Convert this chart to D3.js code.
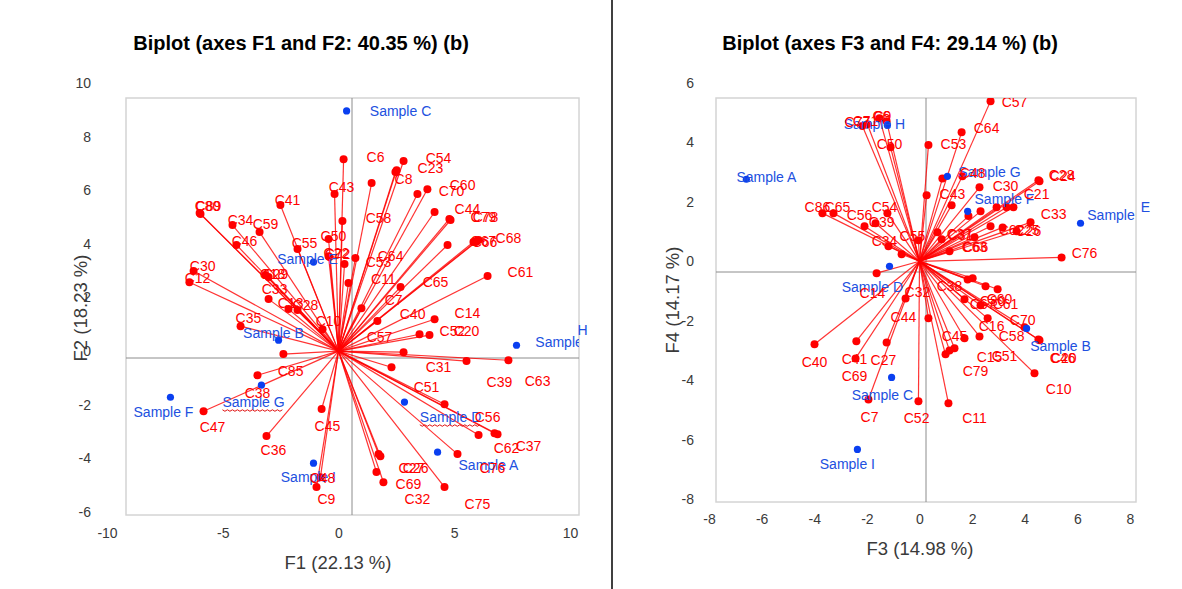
<!DOCTYPE html>
<html>
<head>
<meta charset="utf-8">
<script src="https://cdn.jsdelivr.net/npm/d3@7"></script>
<style>
  body { margin: 0; background: #fff; }
  text { font-family: "Liberation Sans", Arial, sans-serif; }
</style>
</head>
<body>
<div id="chart"></div>
<script>
const WIDTH = 1182, HEIGHT = 589;

// tick labels
const ticksF1 = [-10, -5, 0, 5, 10];
const ticksF2 = [-6, -4, -2, 0, 2, 4, 6, 8, 10];
const ticksF3 = [-8, -6, -4, -2, 0, 2, 4, 6, 8];
const ticksF4 = [-8, -6, -4, -2, 0, 2, 4, 6];

// observations: name, x, y, label x, label y
const samplesF12 = [
  ["Sample C", 0.35, 8.96, 2.68, 8.96],
  ["Sample E", -1.08, 3.32, -1.34, 3.43],
  ["Sample B", -2.59, 0.41, -2.81, 0.67],
  ["Sample G", -3.33, -1.27, -3.67, -1.9],
  ["Sample F", -7.26, -1.72, -7.56, -2.28],
  ["Sample I", -1.08, -4.18, -1.3, -4.7],
  ["Sample D", 2.85, -1.9, 4.84, -2.46],
  ["Sample A", 4.28, -3.77, 6.48, -4.25],
  ["Sample H", 7.69, 0.22, 9.83, 0.34]
];

// variables: name, x, y, label x, label y (no label when hidden)
const varsF12 = [
  ["C6", 0.22, 7.16, 1.6, 7.24], ["C54", 2.81, 7.09, 4.32, 7.2],
  ["C23", 2.51, 6.75, 3.97, 6.83], ["C8", 2.46, 6.68, 2.81, 6.42],
  ["C43", -0.17, 5.86, 0.13, 6.12], ["C70", 3.41, 5.86, 4.88, 5.97],
  ["C60", 3.84, 6.04, 5.36, 6.19], ["C58", 0.17, 4.85, 1.73, 4.96],
  ["C25", 1.43, 6.27], ["C44", 4.15, 5.19, 5.57, 5.3],
  ["C79", 4.79, 4.93, 6.26, 5.0], ["C78", 4.84, 4.89, 6.35, 5.0],
  ["C67", 5.83, 4.07, 6.26, 4.1], ["C66", 5.96, 4.1, 6.31, 4.07],
  ["C68", 6.05, 4.14, 7.34, 4.22], ["C77", 4.71, 3.96],
  ["C61", 6.44, 2.8, 7.86, 2.95], ["C65", 2.68, 2.39, 4.19, 2.57],
  ["C64", 0.73, 3.47, 2.25, 3.54], ["C53", 0.26, 3.25, 1.73, 3.32],
  ["C11", 0.43, 2.54, 1.94, 2.69], ["C7", 0.99, 1.6, 2.38, 1.9],
  ["C40", 1.68, 1.12, 3.2, 1.38], ["C14", 4.15, 1.19, 5.57, 1.42],
  ["C52", 3.5, 0.63, 4.92, 0.75], ["C20", 3.93, 0.6, 5.53, 0.75],
  ["C57", 2.81, -0.04, 1.77, 0.52], ["C63", 7.34, -0.34, 8.6, -1.12],
  ["C39", 5.53, -0.37, 6.95, -1.16], ["C31", 2.29, -0.6, 4.32, -0.6],
  ["C51", 4.58, -1.98, 3.8, -1.34], ["C56", 6.05, -3.13, 6.44, -2.46],
  ["C62", 6.74, -3.06, 7.26, -3.62], ["C37", 6.87, -3.1, 8.21, -3.54],
  ["C76", 5.14, -3.84, 6.65, -4.37], ["C27", 1.73, -3.84, 3.15, -4.37],
  ["C26", 1.81, -3.92, 3.33, -4.37], ["C69", 1.64, -4.51, 3.02, -4.96],
  ["C32", 1.94, -4.89, 3.41, -5.52], ["C75", 4.58, -5.07, 6.0, -5.71],
  ["C48", -0.78, -4.7, -0.69, -4.74], ["C9", -0.95, -5.07, -0.52, -5.52],
  ["C45", -0.73, -2.16, -0.48, -2.8], ["C36", -3.11, -3.17, -2.81, -3.69],
  ["C47", -5.83, -2.24, -5.44, -2.84], ["C38", -3.5, -0.9, -3.5, -1.57],
  ["C85", -2.38, -0.11, -2.07, -0.75], ["C35", -4.23, 0.93, -3.89, 1.23],
  ["C10", -0.69, 0.82, -0.43, 1.12], ["C13", -2.16, 1.57, -2.07, 1.79],
  ["C28", -1.77, 1.53, -1.43, 1.72], ["C33", -3.02, 1.94, -2.76, 2.31],
  ["C18", -3.15, 2.84, -2.85, 2.87], ["C29", -3.02, 2.76, -2.72, 2.87],
  ["C30", -6.26, 2.99, -5.87, 3.17], ["C12", -6.44, 2.57, -6.09, 2.72],
  ["C80", -6.0, 5.15, -5.66, 5.41], ["C89", -5.96, 5.11, -5.62, 5.41],
  ["C34", -4.58, 4.7, -4.23, 4.89], ["C59", -3.41, 4.44, -3.15, 4.74],
  ["C46", -4.41, 3.96, -4.06, 4.1], ["C41", -2.51, 5.45, -2.2, 5.63],
  ["C55", -1.77, 3.81, -1.47, 4.03], ["C50", -0.43, 4.18, -0.22, 4.29],
  ["C22", -0.43, 3.54, -0.09, 3.66], ["C72", -0.39, 3.51, -0.04, 3.62]
];

const samplesF34 = [
  ["Sample A", -6.58, 2.76, -5.82, 2.83],
  ["Sample H", -1.22, 4.58, -1.71, 4.61],
  ["Sample G", 1.06, 2.86, 2.66, 3.0],
  ["Sample F", 1.83, 1.68, 3.23, 2.09],
  ["Sample E", 6.12, 1.28, 7.53, 1.55],
  ["Sample D", -1.14, -0.17, -1.79, -0.88],
  ["Sample C", -1.06, -3.91, -1.41, -4.51],
  ["Sample B", 4.07, -2.26, 5.36, -2.86],
  ["Sample I", -2.36, -6.33, -2.74, -6.84]
];

const varsF34 = [
  ["C77", -2.17, 4.55, -2.36, 4.68], ["C71", -1.98, 4.61, -2.05, 4.71],
  ["C9", -1.52, 4.81, -1.41, 4.88], ["C6", -1.25, 4.71, -1.45, 4.9],
  ["C50", -1.1, 3.84, -1.14, 3.94], ["C86", -3.69, 1.62, -3.88, 1.82],
  ["C65", -3.27, 1.62, -3.12, 1.82], ["C54", -1.22, 1.62, -1.33, 1.82],
  ["C39", -1.67, 1.28, -1.44, 1.31], ["C56", -2.09, 1.18, -2.28, 1.55],
  ["C34", -1.18, 0.51, -1.33, 0.67], ["C1", -0.68, 0.24],
  ["C55", -0.04, 0.71, -0.27, 0.84], ["C14", -1.63, -0.4, -1.79, -1.08],
  ["C53", 0.34, 3.91, 1.29, 3.94], ["C57", 2.7, 5.39, 3.61, 5.35],
  ["C64", 1.6, 4.34, 2.55, 4.48], ["C43", 0.27, 2.22, 1.25, 2.26],
  ["C48", 0.87, 2.79, 2.02, 2.96], ["C4", 1.63, 2.86],
  ["C28", 4.52, 2.73, 5.4, 2.9], ["C24", 4.56, 2.69, 5.44, 2.86],
  ["C30", 2.28, 2.49, 3.27, 2.53], ["C19", 1.22, 1.89],
  ["C21", 1.86, 1.52, 4.45, 2.26], ["C35", 2.32, 1.68],
  ["C17", 2.93, 1.82], ["C18", 3.31, 1.82], ["C23", 3.57, 1.82],
  ["C33", 4.22, 1.31, 5.1, 1.58], ["C62", 3.69, 1.01, 3.5, 1.04],
  ["C25", 3.16, 1.14, 4.07, 1.04], ["C26", 2.7, 1.18, 4.14, 1.01],
  ["C37", 0.68, 0.98, 1.52, 0.91], ["C31", 0.84, 0.74, 1.56, 0.88],
  ["C63", 1.14, 0.34, 2.09, 0.47], ["C66", 2.09, 0.81, 2.13, 0.47],
  ["C76", 5.4, 0.13, 6.27, 0.27], ["C38", 1.83, -0.61, 1.14, -0.84],
  ["C3", 2.02, -0.57], ["C60", 2.51, -0.84, 3.04, -1.28],
  ["C80", 2.97, -0.94, 2.78, -1.35], ["C67", 2.32, -1.48, 2.4, -1.45],
  ["C61", 1.71, -1.28, 3.27, -1.45], ["C70", 3.99, -2.22, 3.92, -1.99],
  ["C46", 4.52, -2.63, 5.44, -3.27], ["C20", 4.56, -2.66, 5.48, -3.27],
  ["C16", 2.59, -1.92, 2.74, -2.19], ["C58", 2.28, -2.53, 3.5, -2.53],
  ["C45", 1.71, -2.59, 1.33, -2.53], ["C15", 1.14, -3.0, 2.66, -3.23],
  ["C51", 1.33, -2.93, 3.23, -3.2], ["C79", 0.99, -3.13, 2.13, -3.7],
  ["C10", 4.37, -3.77, 5.29, -4.31], ["C11", 1.1, -4.78, 2.09, -5.29],
  ["C52", -0.04, -4.71, -0.11, -5.29], ["C44", 0.34, -1.92, -0.61, -1.89],
  ["C32", -0.53, -1.25, -0.08, -1.04], ["C40", -3.99, -2.79, -3.99, -3.4],
  ["C41", -2.4, -2.69, -2.47, -3.3], ["C69", -2.43, -3.27, -2.47, -3.87],
  ["C27", -1.25, -2.73, -1.37, -3.33], ["C7", -1.94, -4.65, -1.9, -5.25]
];

// bits of clipped labels that spill outside the frame
const straysF12 = [["H", 10.54, 0.78]];
const straysF34 = [["E", 8.59, 1.82]];

const RED = "#ff0000", BLUE = "#0a3ff0", BLUE_TEXT = "#2150e0";

const svg = d3.select("#chart").append("svg")
  .attr("width", WIDTH).attr("height", HEIGHT);

svg.append("rect").attr("width", WIDTH).attr("height", HEIGHT).attr("fill", "#fff");

// divider between the two panels
svg.append("line")
  .attr("x1", 612).attr("x2", 612).attr("y1", 0).attr("y2", HEIGHT)
  .attr("stroke", "#000").attr("stroke-width", 1.5);

function drawBiplot(cfg) {
  const g = svg.append("g");
  const x = cfg.x, y = cfg.y, f = cfg.frame;

  g.append("text")
    .attr("x", cfg.titleX).attr("y", 50)
    .attr("text-anchor", "middle")
    .attr("font-size", "20px").attr("font-weight", "bold")
    .text(cfg.title);

  g.append("clipPath").attr("id", cfg.id + "-clip")
    .append("rect")
      .attr("x", f.left).attr("y", f.top)
      .attr("width", f.right - f.left).attr("height", f.bottom - f.top);

  g.append("rect")
    .attr("x", f.left).attr("y", f.top)
    .attr("width", f.right - f.left).attr("height", f.bottom - f.top)
    .attr("fill", "none").attr("stroke", "#d4d4d4").attr("stroke-width", 1.5);

  // axis lines
  g.append("line").attr("x1", f.left).attr("x2", f.right)
    .attr("y1", cfg.axisY).attr("y2", cfg.axisY)
    .attr("stroke", "#8c8c8c").attr("stroke-width", 1);
  g.append("line").attr("x1", cfg.axisX).attr("x2", cfg.axisX)
    .attr("y1", f.top).attr("y2", f.bottom)
    .attr("stroke", "#8c8c8c").attr("stroke-width", 1);

  // tick labels (plain hyphen minus, as in the original)
  const fmt = d => String(d);
  const xAxis = g.append("g")
    .attr("transform", "translate(0," + cfg.xTickY + ")")
    .call(d3.axisBottom(x).tickValues(cfg.xTicks).tickFormat(fmt).tickSize(0).tickPadding(0));
  const yAxis = g.append("g")
    .attr("transform", "translate(" + cfg.yTickX + ",0)")
    .call(d3.axisLeft(y).tickValues(cfg.yTicks).tickFormat(fmt).tickSize(0).tickPadding(0));
  [xAxis, yAxis].forEach(a => {
    a.select(".domain").remove();
    a.selectAll("text")
      .attr("font-size", "14px")
      .attr("font-family", "Liberation Sans, Arial, sans-serif")
      .attr("fill", "#3a3a3a");
  });

  g.append("text")
    .attr("x", cfg.xTitle[1]).attr("y", cfg.xTitle[2])
    .attr("text-anchor", "middle").attr("font-size", "18.5px").attr("fill", "#3a3a3a")
    .text(cfg.xTitle[0]);
  g.append("text")
    .attr("transform", "translate(" + cfg.yTitle[1] + "," + cfg.yTitle[2] + ") rotate(-90)")
    .attr("text-anchor", "middle").attr("font-size", "18.5px").attr("fill", "#3a3a3a")
    .text(cfg.yTitle[0]);

  const plot = g.append("g").attr("clip-path", "url(#" + cfg.id + "-clip)");

  // vectors from the origin
  plot.selectAll(".vec")
    .data(cfg.vars)
    .enter()
    .append("line")
      .attr("class", "vec")
      .attr("x1", x(0)).attr("y1", y(0))
      .attr("x2", d => x(d[1])).attr("y2", d => y(d[2]))
      .attr("stroke", RED).attr("stroke-opacity", 0.8).attr("stroke-width", 1.2);

  plot.selectAll(".vdot")
    .data(cfg.vars)
    .enter()
    .append("circle")
      .attr("class", "vdot")
      .attr("cx", d => x(d[1])).attr("cy", d => y(d[2]))
      .attr("r", 4).attr("fill", RED);

  plot.selectAll(".sdot")
    .data(cfg.samples)
    .enter()
    .append("circle")
      .attr("class", "sdot")
      .attr("cx", d => x(d[1])).attr("cy", d => y(d[2]))
      .attr("r", 3.6).attr("fill", BLUE);

  const sLabels = plot.selectAll(".slab")
    .data(cfg.samples)
    .enter()
    .append("text")
      .attr("class", "slab")
      .attr("x", d => x(d[3])).attr("y", d => y(d[4]))
      .attr("dy", "0.35em")
      .attr("text-anchor", "middle")
      .attr("font-size", "14px").attr("fill", BLUE_TEXT)
      .text(d => d[0]);

  plot.selectAll(".vlab")
    .data(cfg.vars.filter(d => d.length > 3))
    .enter()
    .append("text")
      .attr("class", "vlab")
      .attr("x", d => x(d[3])).attr("y", d => y(d[4]))
      .attr("dy", "0.35em")
      .attr("text-anchor", "middle")
      .attr("font-size", "14px").attr("fill", RED)
      .text(d => d[0]);

  // spell-check squiggles under some labels
  sLabels.filter(d => cfg.flagged.includes(d[0])).each(function () {
    const b = this.getBBox();
    const pts = d3.range(0, Math.floor(b.width / 2.5) + 1)
      .map(i => [b.x + i * 2.5, b.y + b.height + (i % 2 ? 1.3 : -0.2)]);
    plot.append("path")
      .attr("d", d3.line()(pts))
      .attr("fill", "none").attr("stroke", "#e01010").attr("stroke-width", 1);
  });

  g.selectAll(".stray")
    .data(cfg.strays)
    .enter()
    .append("text")
      .attr("x", d => x(d[1])).attr("y", d => y(d[2]))
      .attr("dy", "0.35em").attr("text-anchor", "middle")
      .attr("font-size", "14px").attr("fill", BLUE_TEXT)
      .text(d => d[0]);
}

drawBiplot({
  id: "f12",
  title: "Biplot (axes F1 and F2: 40.35 %) (b)",
  titleX: 301,
  x: d3.scaleLinear().domain([-10, 10]).range([107, 570]),
  y: d3.scaleLinear().domain([-6, 10]).range([512, 83]),
  frame: {left: 126, top: 98, right: 579, bottom: 515},
  axisX: 352, axisY: 358,
  xTicks: ticksF1, yTicks: ticksF2,
  xTickY: 528, yTickX: 91,
  xTitle: ["F1 (22.13 %)", 338, 569],
  yTitle: ["F2 (18.23 %)", 87, 308],
  samples: samplesF12, vars: varsF12, strays: straysF12,
  flagged: ["Sample D", "Sample G"]
});

drawBiplot({
  id: "f34",
  title: "Biplot (axes F3 and F4: 29.14 %) (b)",
  titleX: 890,
  x: d3.scaleLinear().domain([-8, 8]).range([709, 1130]),
  y: d3.scaleLinear().domain([-8, 6]).range([499, 83]),
  frame: {left: 716, top: 98, right: 1136, bottom: 502},
  axisX: 926, axisY: 272,
  xTicks: ticksF3, yTicks: ticksF4,
  xTickY: 514, yTickX: 694,
  xTitle: ["F3 (14.98 %)", 920, 555],
  yTitle: ["F4 (14.17 %)", 679, 300],
  samples: samplesF34, vars: varsF34, strays: straysF34,
  flagged: []
});
</script>
</body>
</html>
